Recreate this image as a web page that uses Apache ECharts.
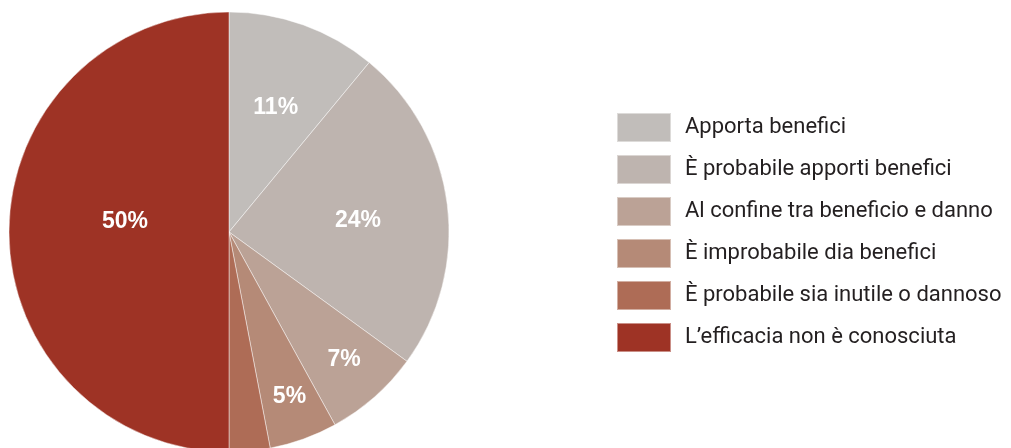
<!DOCTYPE html>
<html>
<head>
<meta charset="utf-8">
<script src="https://cdn.jsdelivr.net/npm/echarts@6/dist/echarts.min.js"></script>
<style>
  html, body { margin: 0; padding: 0; background: #fff; }
  #chart { width: 1011px; height: 448px; }
</style>
</head>
<body>
<div id="chart"></div>
<script>
// Pie: efficacia dei trattamenti
var categories = [
    'Apporta benefici',
    'È probabile apporti benefici',
    'Al confine tra beneficio e danno',
    'È improbabile dia benefici',
    'È probabile sia inutile o dannoso',
    'L\u2019efficacia non è conosciuta'
];
var values = [11, 24, 7, 5, 3, 50];
var showLabel = [true, true, true, true, false, true];

var colors = ['#C1BDBA', '#BEB4AF', '#BBA296', '#B58A77', '#AE6C56', '#9E3325'];
// label placement tweaks (style only): radius fraction and vertical nudge
var labelRadius = [0.61, 0.575, 0.77, 0.79, 0.5, 0.46];
var labelNudgeY = [5, 5, -3, -3, 0, -10];

var cx = 229, cy = 232, R = 220;

var chartElem = document.getElementById('chart');
var chart = echarts.init(chartElem);

var pieData = categories.map(function (name, i) {
    return {
        name: name,
        value: values[i],
        label: { show: showLabel[i] }
    };
});

chart.setOption({
    animation: false,
    color: colors,
    legend: {
        orient: 'vertical',
        left: 616,
        top: 112,
        padding: 0,
        icon: 'rect',
        itemWidth: 54,
        itemHeight: 29,
        itemGap: 11,
        selectedMode: false,
        data: categories,
        textStyle: {
            fontFamily: 'Roboto, "Liberation Sans", sans-serif',
            fontSize: 22,
            lineHeight: 26,
            color: '#231F20',
            padding: [0, 0, 0, 9]
        }
    },
    series: [{
        name: 'Efficacia',
        type: 'pie',
        center: [cx, cy],
        radius: [0, R],
        startAngle: 90,
        clockwise: true,
        data: pieData,
        itemStyle: {
            borderColor: 'rgba(255, 255, 255, 0.45)',
            borderWidth: 1
        },
        label: {
            show: true,
            position: 'inside',
            formatter: '{c}%',
            color: '#fff',
            fontFamily: '"Liberation Sans", Arial, sans-serif',
            fontWeight: 'bold',
            fontSize: 23
        },
        labelLine: { show: false },
        emphasis: { disabled: true },
        labelLayout: function (p) {
            var r = p.labelRect;
            var lx = r.x + r.width / 2 - cx;
            var ly = r.y + r.height / 2 - cy;
            var k = labelRadius[p.dataIndex] / 0.5 - 1;
            return { dx: lx * k, dy: ly * k + labelNudgeY[p.dataIndex] };
        }
    }]
});

window.addEventListener('resize', function () {
    setTimeout(function () {
        chart.resize();
    }, 500);
});
</script>
</body>
</html>
